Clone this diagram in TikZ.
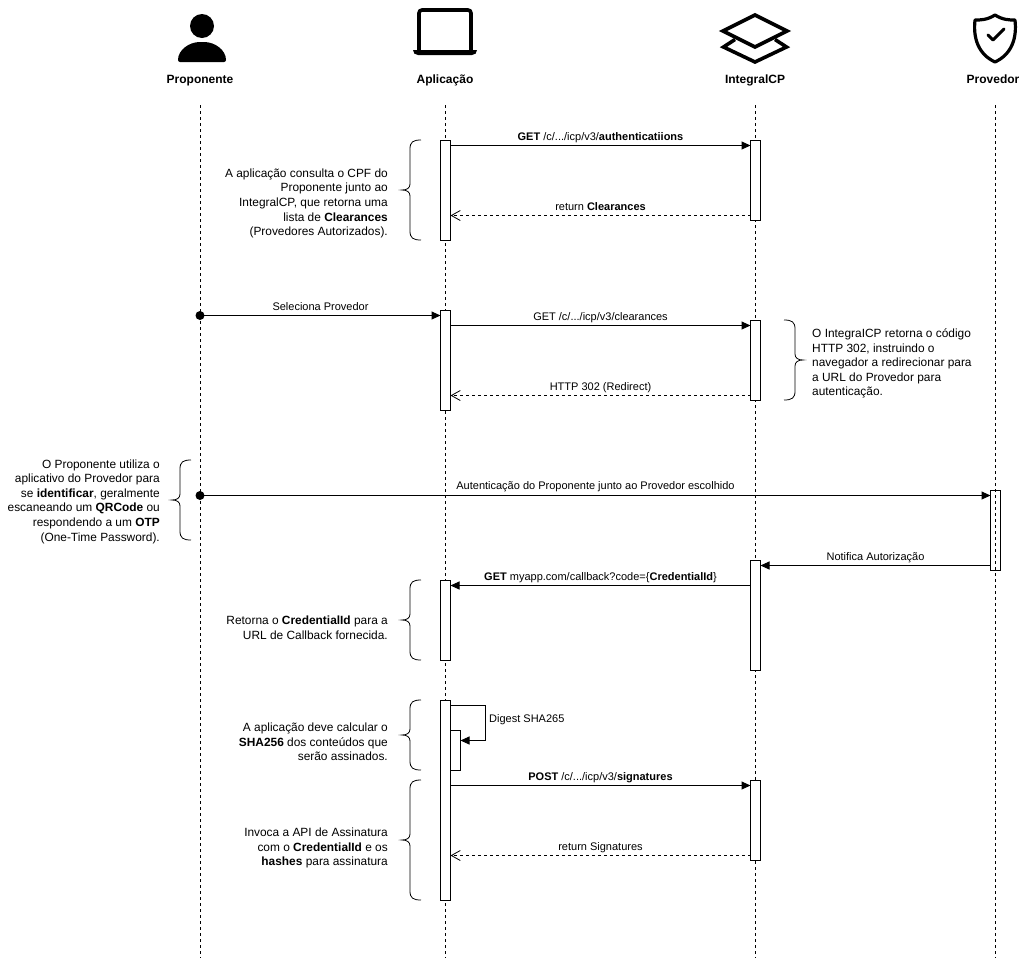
\documentclass[tikz,border=0pt]{standalone}
\usepackage{fontspec}
\setmainfont{Liberation Sans}
\usetikzlibrary{arrows.meta,calc}
\tikzset{
  lifeline/.style={draw=black,line width=1pt,dash pattern=on 3pt off 3pt},
  act/.style={draw=black,fill=white,line width=1pt,minimum width=10pt,inner sep=0pt,outer sep=0pt,anchor=north west},
  actclear/.style={act,fill=none},
  msg/.style={line width=1pt,-{Triangle[length=9pt,width=8pt]}},
  ret/.style={line width=1pt,dash pattern=on 3pt off 3pt,-{Straight Barb[length=9pt,width=10pt,line width=0.8pt]}},
  lbl/.style={font=\fontsize{11}{13}\selectfont,inner sep=0pt,anchor=base},
  head/.style={font=\fontsize{12}{14}\selectfont\bfseries,inner sep=0pt,anchor=base},
  note/.style={font=\fontsize{11.9}{14.6}\selectfont,align=right,anchor=east,inner sep=0pt},
  noteleft/.style={font=\fontsize{11.9}{14.6}\selectfont,align=left,anchor=west,inner sep=0pt},
  brace/.style={draw=black,line width=0.8pt},
  iconline/.style={draw=black,line width=3.6pt,line join=miter},
}
\newcommand{\leftbrace}[4]{% name, x of vertical, y top, y bottom
  \coordinate (#1) at (#2,{(#3+#4)/2});
  \draw[brace] ({#2+11},#3) .. controls ({#2+3},#3) and (#2,{#3+2}) .. (#2,{#3+9})
    -- (#2,{(#3+#4)/2-6}) .. controls (#2,{(#3+#4)/2-2}) and ({#2-3},{(#3+#4)/2}) .. ({#2-8},{(#3+#4)/2})
    .. controls ({#2-3},{(#3+#4)/2}) and (#2,{(#3+#4)/2+2}) .. (#2,{(#3+#4)/2+6})
    -- (#2,{#4-9}) .. controls (#2,{#4-2}) and ({#2+3},#4) .. ({#2+11},#4);
}
\newcommand{\rightbrace}[4]{%
  \coordinate (#1) at (#2,{(#3+#4)/2});
  \draw[brace] ({#2-11},#3) .. controls ({#2-3},#3) and (#2,{#3+2}) .. (#2,{#3+9})
    -- (#2,{(#3+#4)/2-6}) .. controls (#2,{(#3+#4)/2-2}) and ({#2+3},{(#3+#4)/2}) .. ({#2+8},{(#3+#4)/2})
    .. controls ({#2+3},{(#3+#4)/2}) and (#2,{(#3+#4)/2+2}) .. (#2,{(#3+#4)/2+6})
    -- (#2,{#4-9}) .. controls (#2,{#4-2}) and ({#2-3},#4) .. ({#2-11},#4);
}
\begin{document}
\begin{tikzpicture}[x=1pt,y=-1pt]
\useasboundingbox (0,0) rectangle (1023,959);
\fill[white] (0,0) rectangle (1023,959);

% head labels
\node[head] (hP) at (200,83) {Proponente};
\node[head] (hA) at (445,83) {Aplicação};
\node[head] (hI) at (755,83) {IntegralCP};
\node[head] (hV) at (993,83) {Provedor};

% lifelines
\coordinate (eP) at (200,958);
\coordinate (eA) at (445,958);
\coordinate (eI) at (755,958);
\coordinate (eV) at (995,958);
\coordinate (tP) at (200,105);
\coordinate (tA) at (445,105);
\coordinate (tI) at (755,105);
\coordinate (tV) at (995,105);
\draw[lifeline] (tP) -- (eP);
\draw[lifeline] (tA) -- (eA);
\draw[lifeline] (tI) -- (eI);
\draw[lifeline] (tV) -- (eV);

% icons
\fill[black] (202,26) circle (12);
\fill[black,rounded corners=2pt] (178,62) .. controls (178,50) and (189,42) .. (202,42) .. controls (215,42) and (226,50) .. (226,62) -- cycle;
\draw[iconline,rounded corners=3pt] (419,50) -- (419,10) -- (471,10) -- (471,50);
\fill[black] (413,50) -- (477,50) .. controls (477,53) and (475,55) .. (472,55) -- (418,55) .. controls (415,55) and (413,53) .. (413,50) -- cycle;
\draw[iconline] (735,39.5) -- (723.5,47) -- (755,62) -- (786.5,47) -- (775,39.5);
\draw[iconline,fill=white] (755,15) -- (787,31) -- (755,47) -- (723,31) -- cycle;
\draw[draw=black,line width=3.2pt,line join=round] (995,15) .. controls (1003,20) and (1009,20) .. (1015,20)
  .. controls (1017,38) and (1012,54) .. (995,62)
  .. controls (978,54) and (973,38) .. (975,20)
  .. controls (981,20) and (987,20) .. (995,15) -- cycle;
\draw[draw=black,line width=3pt,line cap=round,line join=round] (988,35) -- (993,40) -- (1004,29);

% activations
\node[act,minimum height=100pt] (a1) at (440.5,140.5) {};
\node[act,minimum height=100pt] (a2) at (440.5,310.5) {};
\node[act,minimum height=80pt] (a3) at (440.5,580.5) {};
\node[act,minimum height=200pt] (a4) at (440.5,700.5) {};
\node[act,minimum height=40pt] (a5) at (450.5,730.5) {};
\node[act,minimum height=80pt] (i1) at (750.5,140.5) {};
\node[act,minimum height=80pt] (i2) at (750.5,320.5) {};
\node[act,minimum height=110pt] (i3) at (750.5,560.5) {};
\node[act,minimum height=80pt] (i4) at (750.5,780.5) {};
\node[actclear,minimum height=80pt] (v1) at (990.5,490.5) {};
\coordinate (p1) at (200,315.5);
\coordinate (p2) at (200,495.5);
\fill[black] (p1) circle (4.5);
\fill[black] (p2) circle (4.5);

% messages
\draw[msg] ($(a1.north east)+(0,5)$) -- ($(i1.north west)+(0,5)$);
\draw[ret] ($(i1.south west)+(0,-5)$) -- ($(a1.south east)+(0,-25)$);
\draw[msg] (p1) -- ($(a2.north west)+(0,5)$);
\draw[msg] ($(a2.north east)+(0,15)$) -- ($(i2.north west)+(0,5)$);
\draw[ret] ($(i2.south west)+(0,-5)$) -- ($(a2.south east)+(0,-15)$);
\draw[msg] (p2) -- ($(v1.north west)+(0,5)$);
\draw[msg] ($(v1.south west)+(0,-5)$) -- ($(i3.north east)+(0,5)$);
\draw[msg] ($(i3.north west)+(0,25)$) -- ($(a3.north east)+(0,5)$);
\draw[line width=1pt,-{Triangle[length=9pt,width=8pt]}] ($(a4.north east)+(0,5)$) -- ++(35,0) -- ++(0,35) -- ($(a5.north east)+(0,10)$);
\draw[msg] ($(a4.north east)+(0,85)$) -- ($(i4.north west)+(0,5)$);
\draw[ret] ($(i4.south west)+(0,-5)$) -- ($(a4.north east)+(0,155)$);

% message labels
\node[lbl] (m1) at (600.5,140) {\textbf{GET} /c/.../icp/v3/\textbf{authenticatiions}};
\node[lbl] (m2) at (600.5,210) {return \textbf{Clearances}};
\node[lbl] (m3) at (320.5,310) {Seleciona Provedor};
\node[lbl] (m4) at (600.5,320) {GET /c/.../icp/v3/clearances};
\node[lbl] (m5) at (600.5,390) {HTTP 302 (Redirect)};
\node[lbl] (m6) at (595.5,489) {Autenticação do Proponente junto ao Provedor escolhido};
\node[lbl] (m7) at (875.5,560) {Notifica Autorização};
\node[lbl] (m8) at (600.5,580) {\textbf{GET} myapp.com/callback?code=\{\textbf{CredentialId}\}};
\node[lbl,anchor=base west] (m9) at (489,722) {Digest SHA265};
\node[lbl] (m10) at (600.5,780) {\textbf{POST} /c/.../icp/v3/\textbf{signatures}};
\node[lbl] (m11) at (600.5,850) {return Signatures};

% braces
\leftbrace{b1}{410}{140}{240}
\rightbrace{b2}{795}{320}{400}
\leftbrace{b3}{180}{460}{540}
\leftbrace{b4}{410}{580}{660}
\leftbrace{b5}{410}{700}{770}
\leftbrace{b6}{410}{780}{900}

% notes
\node[note] (n1) at (388,203.5) {A aplicação consulta o CPF do\\Proponente junto ao\\IntegralCP, que retorna uma\\lista de \textbf{Clearances}\\(Provedores Autorizados).};
\node[noteleft] (n2) at (812,363.5) {O IntegraICP retorna o código\\HTTP 302, instruindo o\\navegador a redirecionar para\\a URL do Provedor para\\autenticação.};
\node[note] (n3) at (160,501.5) {O Proponente utiliza o\\aplicativo do Provedor para\\se \textbf{identificar}, geralmente\\escaneando um \textbf{QRCode} ou\\respondendo a um \textbf{OTP}\\(One-Time Password).};
\node[note] (n4) at (388,628) {Retorna o \textbf{CredentialId} para a\\URL de Callback fornecida.};
\node[note] (n5) at (388,742) {A aplicação deve calcular o\\\textbf{SHA256} dos conteúdos que\\serão assinados.};
\node[note] (n6) at (388,848) {Invoca a API de Assinatura\\com o \textbf{CredentialId} e os\\\textbf{hashes} para assinatura};
\end{tikzpicture}
\end{document}
